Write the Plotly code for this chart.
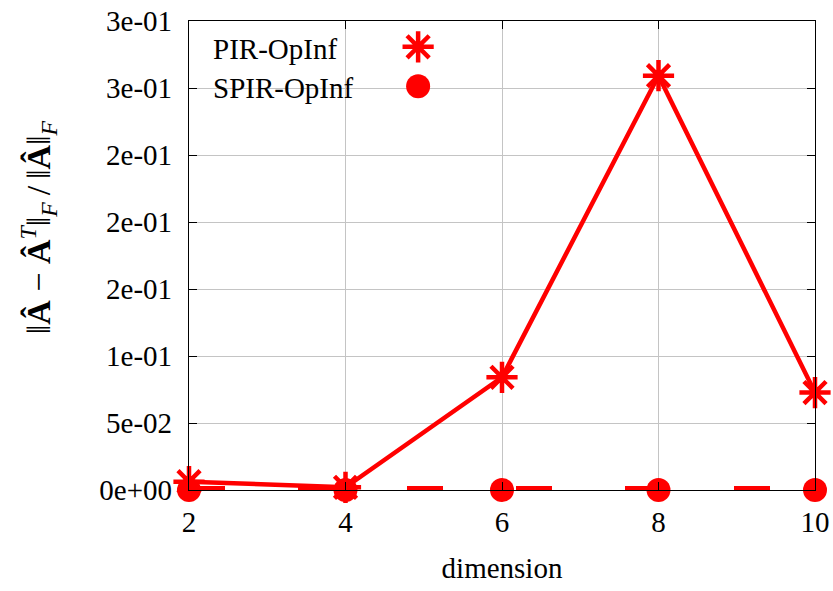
import plotly.graph_objects as go

dims = [2, 4, 6, 8, 10]
pir_err = [0.0062, 0.0020, 0.0841, 0.3092, 0.0727]
spir_err = [0.0, 0.0, 0.0, 0.0, 0.0]
ytick_vals = [0.0, 0.05, 0.10, 0.15, 0.20, 0.25, 0.30, 0.35]
ytick_text = ["0e+00", "5e-02", "1e-01", "2e-01", "2e-01", "2e-01", "3e-01", "3e-01"]
xtick_vals = [2, 4, 6, 8, 10]
series_names = ["PIR-OpInf", "SPIR-OpInf"]

RED = "#ff0000"
FONT = "Liberation Serif"
FS = 29

fig = go.Figure()

fig.add_trace(go.Scatter(
    x=dims, y=spir_err, mode="lines+markers", name=series_names[1],
    line=dict(color=RED, width=8, dash="36px,73px"),
    marker=dict(symbol="circle", size=24, color=RED),
    cliponaxis=False, showlegend=False))

fig.add_trace(go.Scatter(
    x=dims, y=pir_err, mode="lines+markers", name=series_names[0],
    line=dict(color=RED, width=4.5),
    marker=dict(symbol="asterisk-open", size=26, color=RED,
                line=dict(color=RED, width=4.5)),
    cliponaxis=False, showlegend=False))

# legend key glyphs on a hidden unit axis
fig.add_trace(go.Scatter(
    x=[0.366], y=[0.945], xaxis="x2", yaxis="y2", mode="markers",
    marker=dict(symbol="asterisk-open", size=26, color=RED,
                line=dict(color=RED, width=4.5)),
    showlegend=False, hoverinfo="skip", cliponaxis=False))
fig.add_trace(go.Scatter(
    x=[0.366], y=[0.861], xaxis="x2", yaxis="y2", mode="markers",
    marker=dict(symbol="circle", size=24, color=RED),
    showlegend=False, hoverinfo="skip", cliponaxis=False))

axis_common = dict(
    showline=True, linecolor="black", linewidth=1.3, mirror="ticks",
    ticks="inside", ticklen=8, tickcolor="black", tickwidth=1,
    showgrid=True, gridcolor="#c4c4c4", gridwidth=1, zeroline=False,
    automargin=False,
    tickfont=dict(family=FONT, size=FS, color="black"),
)

ytitle = ("‖<b>Â</b> − <b>Â</b><sup><i>T</i></sup>‖<sub><i>F</i></sub>"
          "\u2009/\u2009‖<b>Â</b>‖<sub><i>F</i></sub>")

fig.update_layout(
    template="none",
    width=833, height=591,
    margin=dict(l=189, r=18, t=21, b=101, autoexpand=False),
    paper_bgcolor="white", plot_bgcolor="white",
    showlegend=False,
    xaxis=dict(range=[2, 10], tickvals=xtick_vals, ticklabelstandoff=6,
               title=dict(text="dimension", font=dict(family=FONT, size=FS, color="black"),
                          standoff=20),
               **axis_common),
    yaxis=dict(range=[0, 0.35], tickvals=ytick_vals, ticktext=ytick_text,
               ticklabelstandoff=10, **axis_common),
    xaxis2=dict(range=[0, 1], overlaying="x", visible=False, anchor="y2"),
    yaxis2=dict(range=[0, 1], overlaying="y", visible=False, anchor="x2"),
    shapes=[dict(type="rect", xref="paper", yref="paper",
                 x0=0.03, x1=0.40, y0=0.80, y1=0.985,
                 fillcolor="white", line=dict(width=0), layer="between")],
    annotations=[
        dict(text=series_names[0], xref="paper", yref="paper", x=0.035, y=0.94,
             xanchor="left", yanchor="middle", showarrow=False,
             font=dict(family=FONT, size=FS, color="black")),
        dict(text=series_names[1], xref="paper", yref="paper", x=0.035, y=0.857,
             xanchor="left", yanchor="middle", showarrow=False,
             font=dict(family=FONT, size=FS, color="black")),
        dict(text=ytitle,
             xref="paper", yref="paper", x=-(189 - 38) / 626, y=0.56,
             xanchor="center", yanchor="middle", textangle=-90, showarrow=False,
             font=dict(family=FONT, size=34, color="black")),
    ],
)

fig.write_html("out.html")
